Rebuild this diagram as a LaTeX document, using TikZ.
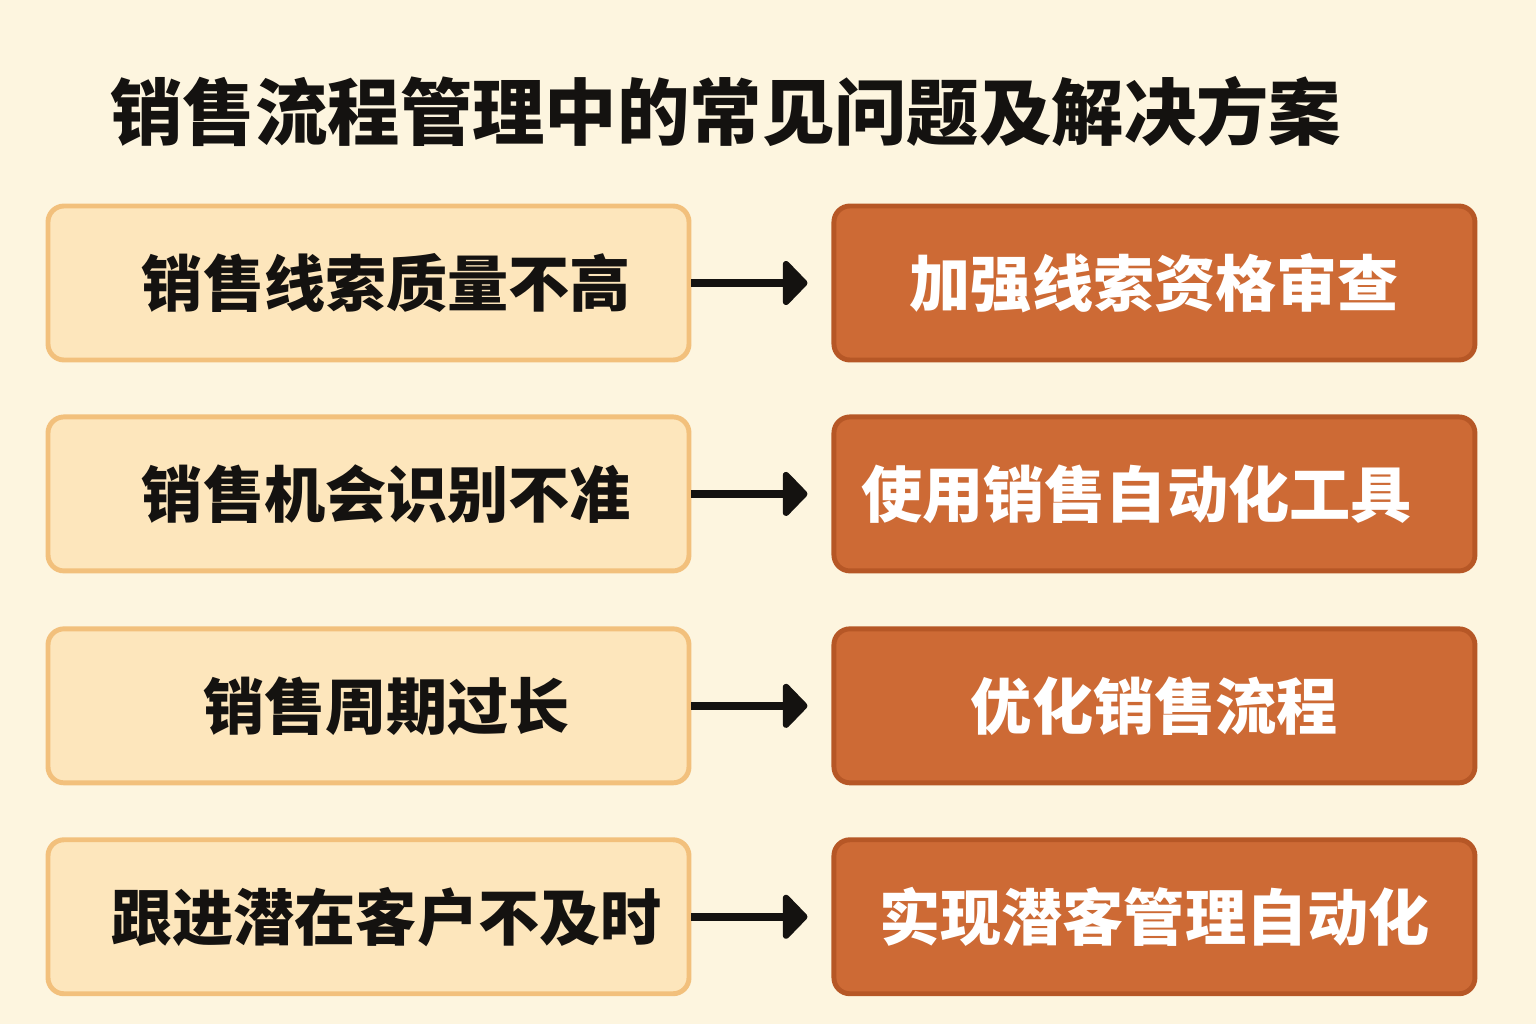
\documentclass[tikz,border=0pt]{standalone}
\usepackage{fontspec}
\setmainfont{Noto Sans CJK SC}
\usetikzlibrary{positioning,arrows.meta}
\definecolor{bgcream}{HTML}{FDF5DF}
\definecolor{probfill}{HTML}{FDE6BC}
\definecolor{probline}{HTML}{F2C07C}
\definecolor{solfill}{HTML}{CD6A35}
\definecolor{solline}{HTML}{B65726}
\definecolor{inkdark}{HTML}{141210}
\tikzset{
  probbox/.style={draw=probline,fill=probfill,line width=1.4pt,rounded corners=0.16cm,
    minimum width=6.41cm,minimum height=1.54cm,inner sep=0pt,text=inkdark,
    font=\fontsize{17.4pt}{20pt}\selectfont\bfseries},
  solbox/.style={draw=solline,fill=solfill,line width=1.4pt,rounded corners=0.16cm,
    minimum width=6.41cm,minimum height=1.54cm,inner sep=0pt,text=white,
    font=\fontsize{17.4pt}{20pt}\selectfont\bfseries},
  arr/.style={line width=0.08cm,draw=inkdark,
    -{Triangle[length=0.26cm,width=0.52cm,round]},shorten <=0.0cm,shorten >=0.24cm}
}
\begin{document}
\begin{tikzpicture}
\fill[bgcream] (0,0) rectangle (15.36,10.24);
\useasboundingbox (0,0) rectangle (15.36,10.24);
% title
\node[anchor=west,text=inkdark,font=\fontsize{20.6pt}{24pt}\selectfont\bfseries] (title) at (0.98,9.12) {销售流程管理中的常见问题及解决方案};
% problems and fixes
\node[probbox] (p1) at (3.685,7.41) {\hspace*{0.36cm}销售线索质量不高};
\node[probbox,below=0.52cm of p1] (p2) {\hspace*{0.36cm}销售机会识别不准};
\node[probbox,below=0.53cm of p2] (p3) {\hspace*{0.36cm}销售周期过长};
\node[probbox,below=0.52cm of p3] (p4) {\hspace*{0.36cm}跟进潜在客户不及时};
\node[solbox,right=1.40cm of p1] (s1) {加强线索资格审查};
\node[solbox,right=1.40cm of p2] (s2) {\hspace*{-0.36cm}使用销售自动化工具};
\node[solbox,right=1.40cm of p3] (s3) {优化销售流程};
\node[solbox,right=1.40cm of p4] (s4) {实现潜客管理自动化};
\foreach \i in {1,...,4} \draw[arr] (p\i) -- (s\i);
\end{tikzpicture}
\end{document}
